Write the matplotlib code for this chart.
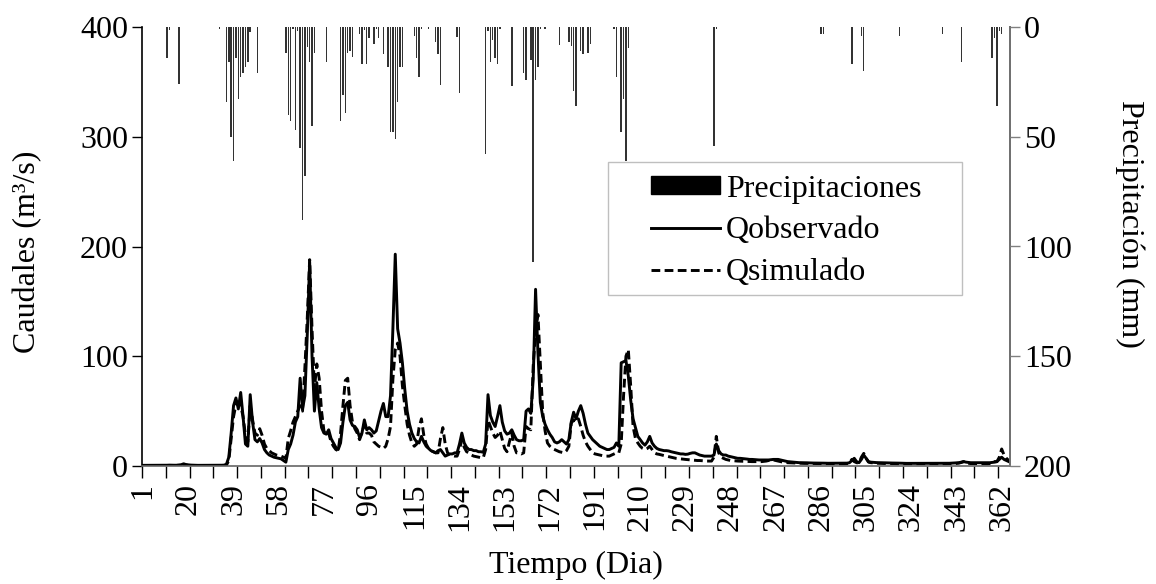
import numpy as np
import matplotlib.pyplot as plt
from matplotlib.patches import Patch, Rectangle
from matplotlib.lines import Line2D

plt.rcParams['font.family'] = ['Liberation Serif', 'DejaVu Serif']
plt.rcParams['font.size'] = 23

# daily observed discharge (m3/s), days 1..365
q_obs = [
    0.6, 0.6, 0.6, 0.6, 0.6, 0.6, 0.6, 0.6, 0.6, 0.6,
    0.7, 0.8, 0.7, 0.7, 0.7, 0.9, 1.2, 2.0, 1.3, 0.9,
    0.8, 0.7, 0.7, 0.6, 0.6, 0.6, 0.6, 0.6, 0.6, 0.6,
    0.6, 0.6, 0.7, 0.7, 0.8, 1.5, 8, 30, 55, 62,
    52, 67, 45, 20, 18, 65, 40, 24, 22, 25,
    21, 15, 12, 10, 9, 8, 7.5, 7, 6.5, 5,
    3.5, 15, 20, 28, 40, 45, 80, 52, 64, 120,
    186, 100, 50, 76, 52, 35, 30, 29, 33, 25,
    21, 17, 15, 21, 40, 55, 58, 42, 37, 36,
    33, 26, 30, 42, 33, 35, 33, 30, 32, 41,
    50, 57, 45, 45, 64, 125, 193, 125, 112, 94,
    70, 50, 38, 30, 25, 22, 21, 27, 22, 18,
    16, 14, 13, 12, 14, 15, 12, 9, 10, 11,
    11, 12, 12, 20, 30, 21, 17, 15, 15, 14,
    14, 13, 13, 12.5, 20, 65, 46, 40, 36, 45,
    55, 40, 32, 29, 30, 33, 28, 24, 23, 23,
    24, 50, 52, 48, 79, 161, 103, 58, 45, 38,
    33, 29, 26, 22, 21, 22, 24, 22, 20, 24,
    40, 49, 43, 50, 55, 48, 38, 30, 27, 24,
    22, 20, 18, 17, 16, 15, 15, 16, 17, 21,
    18, 94, 95, 96, 82, 60, 43, 35, 27, 24,
    21, 19, 22, 27, 21, 18, 16, 15, 14.5, 14,
    14, 13.7, 13, 12.5, 12, 11.5, 11, 11, 10.6, 10.8,
    11.5, 12, 12, 11, 10, 9.5, 9, 9, 9, 9,
    10, 20, 14, 11, 10, 10, 9, 8.5, 8, 7.5,
    7, 7, 6.8, 6.5, 6.3, 6, 6, 5.8, 5.6, 5.5,
    5.5, 5.5, 5.5, 5.5, 5.8, 6, 6, 6, 5.5, 5,
    4.5, 4, 3.8, 3.5, 3.3, 3.2, 3, 3, 2.9, 2.9,
    2.8, 2.8, 2.7, 2.7, 2.6, 2.6, 2.6, 2.5, 2.5, 2.5,
    2.4, 2.4, 2.4, 2.4, 2.4, 2.5, 2.6, 3, 5, 7,
    4, 3, 6, 10, 7, 4, 3.5, 3.3, 3.2, 3,
    3, 2.9, 2.9, 2.8, 2.8, 2.7, 2.7, 2.6, 2.6, 2.5,
    2.5, 2.4, 2.4, 2.4, 2.4, 2.4, 2.4, 2.4, 2.4, 2.4,
    2.4, 2.4, 2.4, 2.4, 2.4, 2.4, 2.5, 2.5, 2.5, 2.5,
    2.6, 2.7, 2.8, 3, 3.5, 4, 3.5, 3.2, 3, 3,
    3, 3, 3, 3, 3, 3, 3, 3.2, 3.5, 4,
    6, 8, 6, 5, 4,
]

# daily simulated discharge (m3/s)
q_sim = [
    0.3, 0.3, 0.3, 0.3, 0.3, 0.3, 0.3, 0.3, 0.3, 0.3,
    0.4, 0.5, 0.4, 0.4, 0.4, 0.6, 0.9, 1.5, 1.0, 0.7,
    0.5, 0.4, 0.4, 0.3, 0.3, 0.3, 0.3, 0.3, 0.3, 0.3,
    0.3, 0.3, 0.4, 0.4, 0.5, 0.8, 5, 25, 45, 56,
    58, 55, 45, 28, 22, 55, 42, 30, 28, 34,
    28, 20, 16, 14, 12, 11, 10, 9.5, 9, 8,
    7, 25, 32, 40, 45, 50, 55, 50, 90, 135,
    188, 125, 70, 93, 80, 50, 32, 28, 30, 22,
    18, 15, 14, 30, 55, 78, 80, 55, 40, 34,
    30, 24, 30, 38, 30, 30, 28, 22, 20, 18,
    17, 16, 18, 25, 36, 79, 106, 112, 100, 73,
    55, 38, 28, 21, 18, 20, 35, 43, 28, 20,
    16, 14, 13, 12, 12, 25, 35, 20, 12, 10,
    9.5, 9, 9, 15, 24, 17, 13, 12, 10, 9,
    8.5, 8, 7.6, 7.5, 15, 42, 36, 30, 26, 28,
    32, 24, 16, 13, 22, 30, 18, 12, 12, 11,
    12, 36, 34, 33, 91, 122, 138, 94, 49, 32,
    21, 18, 16, 15, 14, 13, 12.5, 12, 14, 18,
    39, 42, 40, 43, 36, 28, 22, 18, 15, 12,
    11, 10.5, 10, 9.5, 9, 9, 9, 10, 11, 12,
    12, 20, 64, 100, 106, 73, 36, 25, 21, 18,
    16, 15, 16, 18, 15, 12, 11, 10.6, 10, 9.5,
    9, 8.5, 8, 7.5, 7, 6.8, 6.5, 6.2, 6, 5.8,
    5.6, 5.4, 5.2, 5, 5, 4.8, 4.6, 4.5, 4.5, 4.5,
    8, 27, 12, 8, 7, 6, 5.5, 5, 4.8, 4.6,
    4.5, 4.4, 4.3, 4.2, 4.2, 4.1, 4, 4, 4, 4,
    4, 4.2, 4.5, 5, 5.5, 5.5, 5, 4.5, 4, 3.5,
    3.2, 3, 2.9, 2.8, 2.7, 2.6, 2.5, 2.5, 2.4, 2.4,
    2.3, 2.3, 2.3, 2.2, 2.2, 2.2, 2.2, 2.1, 2.1, 2.1,
    2.0, 2.0, 2.0, 2.0, 2.0, 2.0, 2.2, 3, 6, 4,
    3, 2.6, 8, 11.5, 7, 3.5, 3, 2.8, 2.6, 2.5,
    2.4, 2.3, 2.3, 2.2, 2.2, 2.1, 2.1, 2.0, 2.0, 2.0,
    1.9, 1.9, 1.9, 1.9, 1.9, 1.9, 1.9, 1.9, 1.9, 1.9,
    1.9, 1.9, 1.9, 1.9, 1.9, 1.9, 1.9, 1.9, 1.9, 1.9,
    2.0, 2.1, 2.3, 2.6, 3.2, 4, 3, 2.5, 2.2, 2.1,
    2.0, 2.0, 2.0, 2.0, 2.0, 2.0, 2.2, 3, 4, 4,
    8, 15.5, 10, 7, 5,
]

# rainy days and precipitation (mm)
rain_days = [11, 12, 16, 33, 36, 37, 38, 39, 40, 41, 42, 43, 44, 45, 46, 49,
             61, 62, 63, 64, 65, 66, 67, 68, 69, 70, 71, 72, 73, 78,
             84, 85, 86, 87, 88, 89, 92, 93, 94, 95, 96, 98, 99, 100, 102,
             104, 105, 106, 107, 108, 109, 110, 115, 116, 117, 118, 121,
             124, 125, 126, 133, 134, 145, 146, 147, 148, 149, 150, 151, 156,
             161, 162, 164, 165, 166, 167, 168, 170, 176, 180, 181, 182, 183,
             185, 186, 188, 189, 199, 200, 202, 203, 204, 205, 241, 242,
             286, 287, 299, 303, 304, 319, 337, 345, 358, 359, 360, 361, 362]
rain_mm = [14, 1.5, 26, 1, 34, 16, 50, 61, 14, 33, 23, 21, 18, 16, 2.5, 21,
           12, 40, 43, 1, 47, 2, 55, 88, 68, 9, 16, 45, 12, 16,
           43, 31, 39, 12, 11, 13.5, 3, 17, 1.5, 17, 5, 7.6, 1, 5, 12.4,
           18, 48, 48, 51, 34, 18, 18, 4, 14, 23, 1, 1,
           7, 12.4, 26.6, 4.5, 30, 58, 2, 16, 6, 14, 17, 1, 27,
           21, 24, 15, 107, 24, 18, 1, 1, 8, 7, 8.6, 29, 36,
           11, 12.4, 12, 7.6, 1, 23, 48, 33, 61, 9.4, 54, 1,
           3, 3, 17, 4, 20, 4, 3, 16, 14, 5, 36, 2, 3]

days = np.arange(1, len(q_obs) + 1)
tick_days = list(range(1, 366, 19))

W, H = 1156, 584
fig = plt.figure(figsize=(W / 100, H / 100), dpi=100)
ax = fig.add_axes([142 / W, 1 - 466 / H, 868 / W, 439 / H])
ax2 = ax.twinx()

ax.plot(days, q_obs, color='black', lw=2.1)
ax.plot(days, q_sim, color='black', lw=2.1, ls=(0, (3, 1.5)))
ax2.bar(rain_days, rain_mm, width=0.6, color='#333333', edgecolor='none')

ax.set_xlim(0.5, 365.5)
ax.set_ylim(0, 400)
ax.set_yticks([0, 100, 200, 300, 400])
ax2.set_ylim(200, 0)
ax2.set_yticks([0, 50, 100, 150, 200])

ax.set_xticks(tick_days)
ax.set_xticklabels([str(d) for d in tick_days], rotation=90)
ax.set_xticks(np.arange(0.5, 366, 10), minor=True)
ax.tick_params(axis='x', which='major', length=0, pad=12)
ax.tick_params(axis='x', which='minor', length=8.5, direction='out', width=1)
ax.tick_params(axis='y', length=7, direction='out', width=1, pad=3)
ax2.tick_params(axis='y', length=7, direction='out', width=1, pad=3,
                color='#808080')

for a in (ax, ax2):
    a.spines['top'].set_visible(False)
ax.spines['left'].set_color('black')
ax.spines['bottom'].set_color('#666666')
ax2.spines['right'].set_color('#808080')
ax2.spines['left'].set_visible(False)
ax2.spines['bottom'].set_visible(False)
for s in ('left', 'bottom', 'right'):
    ax.spines[s].set_linewidth(1.2)
    ax2.spines[s].set_linewidth(1.2)

fig.text(576 / W, 1 - 565 / H, 'Tiempo (Dia)', ha='center', va='center')
fig.text(28 / W, 1 - 252 / H, 'Caudales (m³/s)', rotation=90,
         ha='center', va='center')
fig.text(1130 / W, 1 - 224 / H, 'Precipitación (mm)', rotation=-90,
         ha='center', va='center')

# legend frame and entries
frame = Rectangle((0.537, 0.3895), 0.408, 0.303, transform=ax2.transAxes,
                  facecolor='white', edgecolor='#bfbfbf', lw=1.0, zorder=5)
ax2.add_patch(frame)
handles = [Patch(facecolor='black', edgecolor='black', label='Precipitaciones'),
           Line2D([], [], color='black', lw=2.1, label='Qobservado'),
           Line2D([], [], color='black', lw=2.1, ls=(0, (3, 1.5)), label='Qsimulado')]
leg = ax2.legend(handles=handles, loc='upper left', bbox_to_anchor=(0.5864, 0.664),
                 frameon=False, handlelength=2.15, handleheight=0.5,
                 handletextpad=0.2, labelspacing=0.4, borderpad=0,
                 borderaxespad=0)
leg.set_zorder(6)

fig.savefig('out.png', dpi=100)
